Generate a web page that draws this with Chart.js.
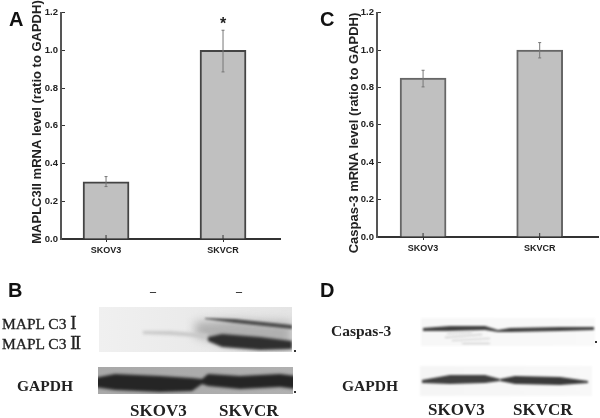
<!DOCTYPE html>
<html>
<head>
<meta charset="utf-8">
<script src="https://cdn.jsdelivr.net/npm/chart.js@4"></script>
<style>
  html, body { margin: 0; padding: 0; background: #fff; }
  #page { position: relative; width: 600px; height: 418px; overflow: hidden; }
  #page canvas { position: absolute; top: 0; }
  .letra { position: absolute; font: bold 20px "Liberation Sans"; line-height: 20px; color: #111; }
  .blot { position: absolute; font-family: "Liberation Serif"; font-weight: bold; color: #222; white-space: nowrap; line-height: 1; transform: translateY(-50%); }
</style>
</head>
<body>
<div id="page">
  <canvas id="blots" width="600" height="418" style="left:0"></canvas>
  <canvas id="graficoA" width="300" height="270" style="left:0"></canvas>
  <canvas id="graficoC" width="300" height="270" style="left:300px"></canvas>

  <div class="letra" style="left:9px;top:9px">A</div>
  <div class="letra" style="left:320px;top:9px">C</div>
  <div class="letra" style="left:8px;top:280px">B</div>
  <div class="letra" style="left:320px;top:280px">D</div>

  <div class="blot" style="left:2px;top:322px;font-size:15.5px;font-weight:normal;-webkit-text-stroke:0.3px #222">MAPL C3 <span style="font-size:19px">I</span></div>
  <div class="blot" style="left:2px;top:342px;font-size:15.5px;font-weight:normal;-webkit-text-stroke:0.3px #222">MAPL C3 <span style="font-size:19px;letter-spacing:-2px">II</span></div>
  <div class="blot" style="left:17px;top:386px;font-size:15.5px">GAPDH</div>
  <div class="blot" style="left:150px;top:291px;font-size:12px">–</div>
  <div class="blot" style="left:236px;top:291px;font-size:12px">–</div>
  <div class="blot" style="left:130px;top:410px;font-size:17px">SKOV3</div>
  <div class="blot" style="left:219px;top:410px;font-size:17px">SKVCR</div>
  <div class="blot" style="left:331px;top:331px;font-size:15.5px">Caspas-3</div>
  <div class="blot" style="left:342px;top:386px;font-size:15.5px">GAPDH</div>
  <div class="blot" style="left:428px;top:409px;font-size:17px">SKOV3</div>
  <div class="blot" style="left:513px;top:409px;font-size:17px">SKVCR</div>
</div>

<script>
const categorias = ["SKOV3", "SKVCR"];
const ticksY = [0, 0.2, 0.4, 0.6, 0.8, 1.0, 1.2];

const valoresA = [0.303, 1.0];
const superiorA = [0.331, 1.107];
const inferiorA = [0.278, 0.886];
const marcasA = ["", "*"];

const valoresC = [0.85, 1.0];
const superiorC = [0.892, 1.04];
const inferiorC = [0.803, 0.958];
const marcasC = ["", ""];

const tituloA = "MAPLC3II mRNA level (ratio to GAPDH)";
const tituloC = "Caspas-3 mRNA level (ratio to GAPDH)";

// error bars, star, the part of the x tick inside the plot, y title
const extrasPlugin = {
  id: "extras",
  afterDatasetsDraw(chart, args, opts) {
    const { ctx, scales } = chart;
    const { x, y } = scales;
    ctx.save();
    ctx.strokeStyle = "#777";
    ctx.lineWidth = 1;
    opts.superior.forEach((sup, i) => {
      const px = x.getPixelForValue(i + 1);
      const yTop = y.getPixelForValue(sup);
      const yBot = y.getPixelForValue(opts.inferior[i]);
      ctx.beginPath();
      ctx.moveTo(px, yTop);
      ctx.lineTo(px, yBot);
      ctx.moveTo(px - 1.5, yTop);
      ctx.lineTo(px + 1.5, yTop);
      ctx.moveTo(px - 1.5, yBot);
      ctx.lineTo(px + 1.5, yBot);
      ctx.stroke();

      ctx.strokeStyle = "#333";
      ctx.beginPath();
      ctx.moveTo(px, y.getPixelForValue(0));
      ctx.lineTo(px, y.getPixelForValue(0) - 4);
      ctx.stroke();
      ctx.strokeStyle = "#777";

      if (opts.marcas[i]) {
        ctx.fillStyle = "#222";
        ctx.font = 'bold 16px "Liberation Sans"';
        ctx.textAlign = "center";
        ctx.textBaseline = "middle";
        ctx.fillText(opts.marcas[i], px, yTop - 6);
      }
    });
    ctx.translate(opts.tituloX, opts.tituloY);
    ctx.rotate(-Math.PI / 2);
    ctx.fillStyle = "#222";
    ctx.font = 'bold 13px "Liberation Sans"';
    ctx.textAlign = "center";
    ctx.textBaseline = "middle";
    ctx.fillText(opts.titulo, 0, 0);
    ctx.restore();
  },
};

function criarGrafico(id, valores, superior, inferior, marcas, titulo, caixa) {
  return new Chart(document.getElementById(id), {
    type: "bar",
    data: {
      datasets: [
        {
          data: valores.map((v, i) => ({ x: i + 1, y: v })),
          backgroundColor: "#c0c0c0",
          borderColor: caixa.borda,
          borderWidth: { top: 2, left: 2, right: 2, bottom: 0 },
          barThickness: 46,
        },
      ],
    },
    options: {
      responsive: false,
      animation: false,
      layout: { padding: { top: caixa.topo, right: caixa.direita, bottom: 0, left: 0 } },
      plugins: {
        legend: { display: false },
        tooltip: { enabled: false },
        extras: {
          superior,
          inferior,
          marcas,
          titulo,
          tituloX: caixa.tituloX,
          tituloY: caixa.tituloY,
        },
      },
      scales: {
        x: {
          type: "linear",
          offset: false,
          min: caixa.xMin,
          max: caixa.xMax,
          afterBuildTicks(scale) {
            scale.ticks = categorias.map((c, i) => ({ value: i + 1 }));
          },
          afterFit(scale) {
            scale.height = caixa.alturaX;
          },
          grid: { offset: false, drawOnChartArea: false, tickLength: 3, color: "#333" },
          border: { color: "#333", width: 2 },
          ticks: {
            color: "#222",
            padding: 3,
            maxRotation: 0,
            font: { family: "Liberation Sans", weight: "bold", size: 9 },
            callback: (v) => categorias[v - 1],
          },
        },
        y: {
          min: 0,
          max: 1.2,
          afterBuildTicks(scale) {
            scale.ticks = ticksY.map((v) => ({ value: v }));
          },
          afterFit(scale) {
            scale.width = caixa.larguraY;
          },
          grid: { drawOnChartArea: false, tickLength: -4, color: "#333" },
          border: { color: "#555", width: 2 },
          ticks: {
            color: "#222",
            padding: 7,
            font: { family: "Liberation Sans", weight: "bold", size: 9.5 },
            callback: (v) => v.toFixed(1),
          },
        },
      },
    },
    plugins: [extrasPlugin],
  });
}

criarGrafico("graficoA", valoresA, superiorA, inferiorA, marcasA, tituloA, {
  topo: 12, direita: 20, alturaX: 31, larguraY: 61,
  xMin: 0.615, xMax: 2.487, tituloX: 37, tituloY: 122, borda: "#444",
});
criarGrafico("graficoC", valoresC, superiorC, inferiorC, marcasC, tituloC, {
  topo: 12, direita: 2, alturaX: 33, larguraY: 77,
  xMin: 0.605, xMax: 2.5, tituloX: 54, tituloY: 133, borda: "#666",
});

// western blot photos, not data: painted as blurred shapes
const blots = document.getElementById("blots").getContext("2d");

function painel(x, y, w, h, cor1, cor2, blur = 0) {
  const g = blots.createLinearGradient(x, 0, x + w, 0);
  g.addColorStop(0, cor1);
  g.addColorStop(1, cor2);
  blots.save();
  blots.filter = `blur(${blur}px)`;
  blots.fillStyle = g;
  blots.fillRect(x, y, w, h);
  blots.restore();
}

function banda(pontos, cor, blur) {
  blots.save();
  blots.filter = `blur(${blur}px)`;
  blots.fillStyle = cor;
  blots.beginPath();
  pontos.forEach((p, i) => (i ? blots.lineTo(p[0], p[1]) : blots.moveTo(p[0], p[1])));
  for (let i = pontos.length - 1; i >= 0; i--) blots.lineTo(pontos[i][0], pontos[i][2]);
  blots.closePath();
  blots.fill();
  blots.restore();
}

function ponto(x, y) {
  blots.fillStyle = "#333";
  blots.fillRect(x, y, 2, 2);
}

// painel B, topo
painel(99, 307, 193, 45, "#f0f0f0", "#e4e4e4", 0.5);
blots.save();
blots.beginPath();
blots.rect(99, 307, 193, 45);
blots.clip();
banda([[195, 322, 336], [230, 320, 345], [292, 322, 350]], "#b0b0b0", 5);
banda([[143, 331, 334], [170, 331, 335], [208, 334, 338]], "#c8c8c8", 1.5);
banda([[205, 318, 319], [235, 319, 323], [292, 325, 329]], "#505050", 1.2);
banda([[208, 337, 341], [222, 334, 347], [260, 337, 350], [292, 341, 349]], "#2f2f2f", 1.8);
blots.restore();
ponto(294, 350);

// painel B, GAPDH
painel(98, 367, 195, 27, "#a8a8a8", "#b0b0b0");
blots.save();
blots.beginPath();
blots.rect(98, 367, 195, 27);
blots.clip();
banda([[94, 378, 387], [115, 374, 390], [160, 376, 392], [192, 378, 391], [202, 379, 384], [208, 374, 386], [240, 376, 389], [280, 374, 387], [296, 376, 389]], "#252525", 1.5);
blots.restore();
ponto(294, 391);

// painel D
painel(421, 318, 174, 28, "#f7f7f7", "#f9f9f9", 1);
painel(420, 366, 172, 30, "#f5f5f5", "#f8f8f8", 1);
banda([[423, 328, 331], [450, 326, 331], [485, 326, 330], [498, 330, 332], [510, 328, 332], [560, 327, 331], [594, 327, 330]], "#3f3f3f", 0.8);
banda([[447, 333, 334], [472, 332, 333]], "#c8c8c8", 0.8);
banda([[445, 337, 338], [482, 334, 335]], "#c0c0c0", 0.8);
banda([[452, 340, 341], [490, 338, 339]], "#c8c8c8", 0.8);
banda([[462, 343, 344], [490, 343, 344]], "#c4c4c4", 0.8);
banda([[422, 380, 383], [450, 375, 384], [485, 375, 383], [500, 379, 381]], "#404040", 1);
banda([[500, 379, 381], [515, 376, 384], [560, 377, 385], [588, 381, 383]], "#3a3a3a", 1);
ponto(595, 341);
</script>
</body>
</html>
